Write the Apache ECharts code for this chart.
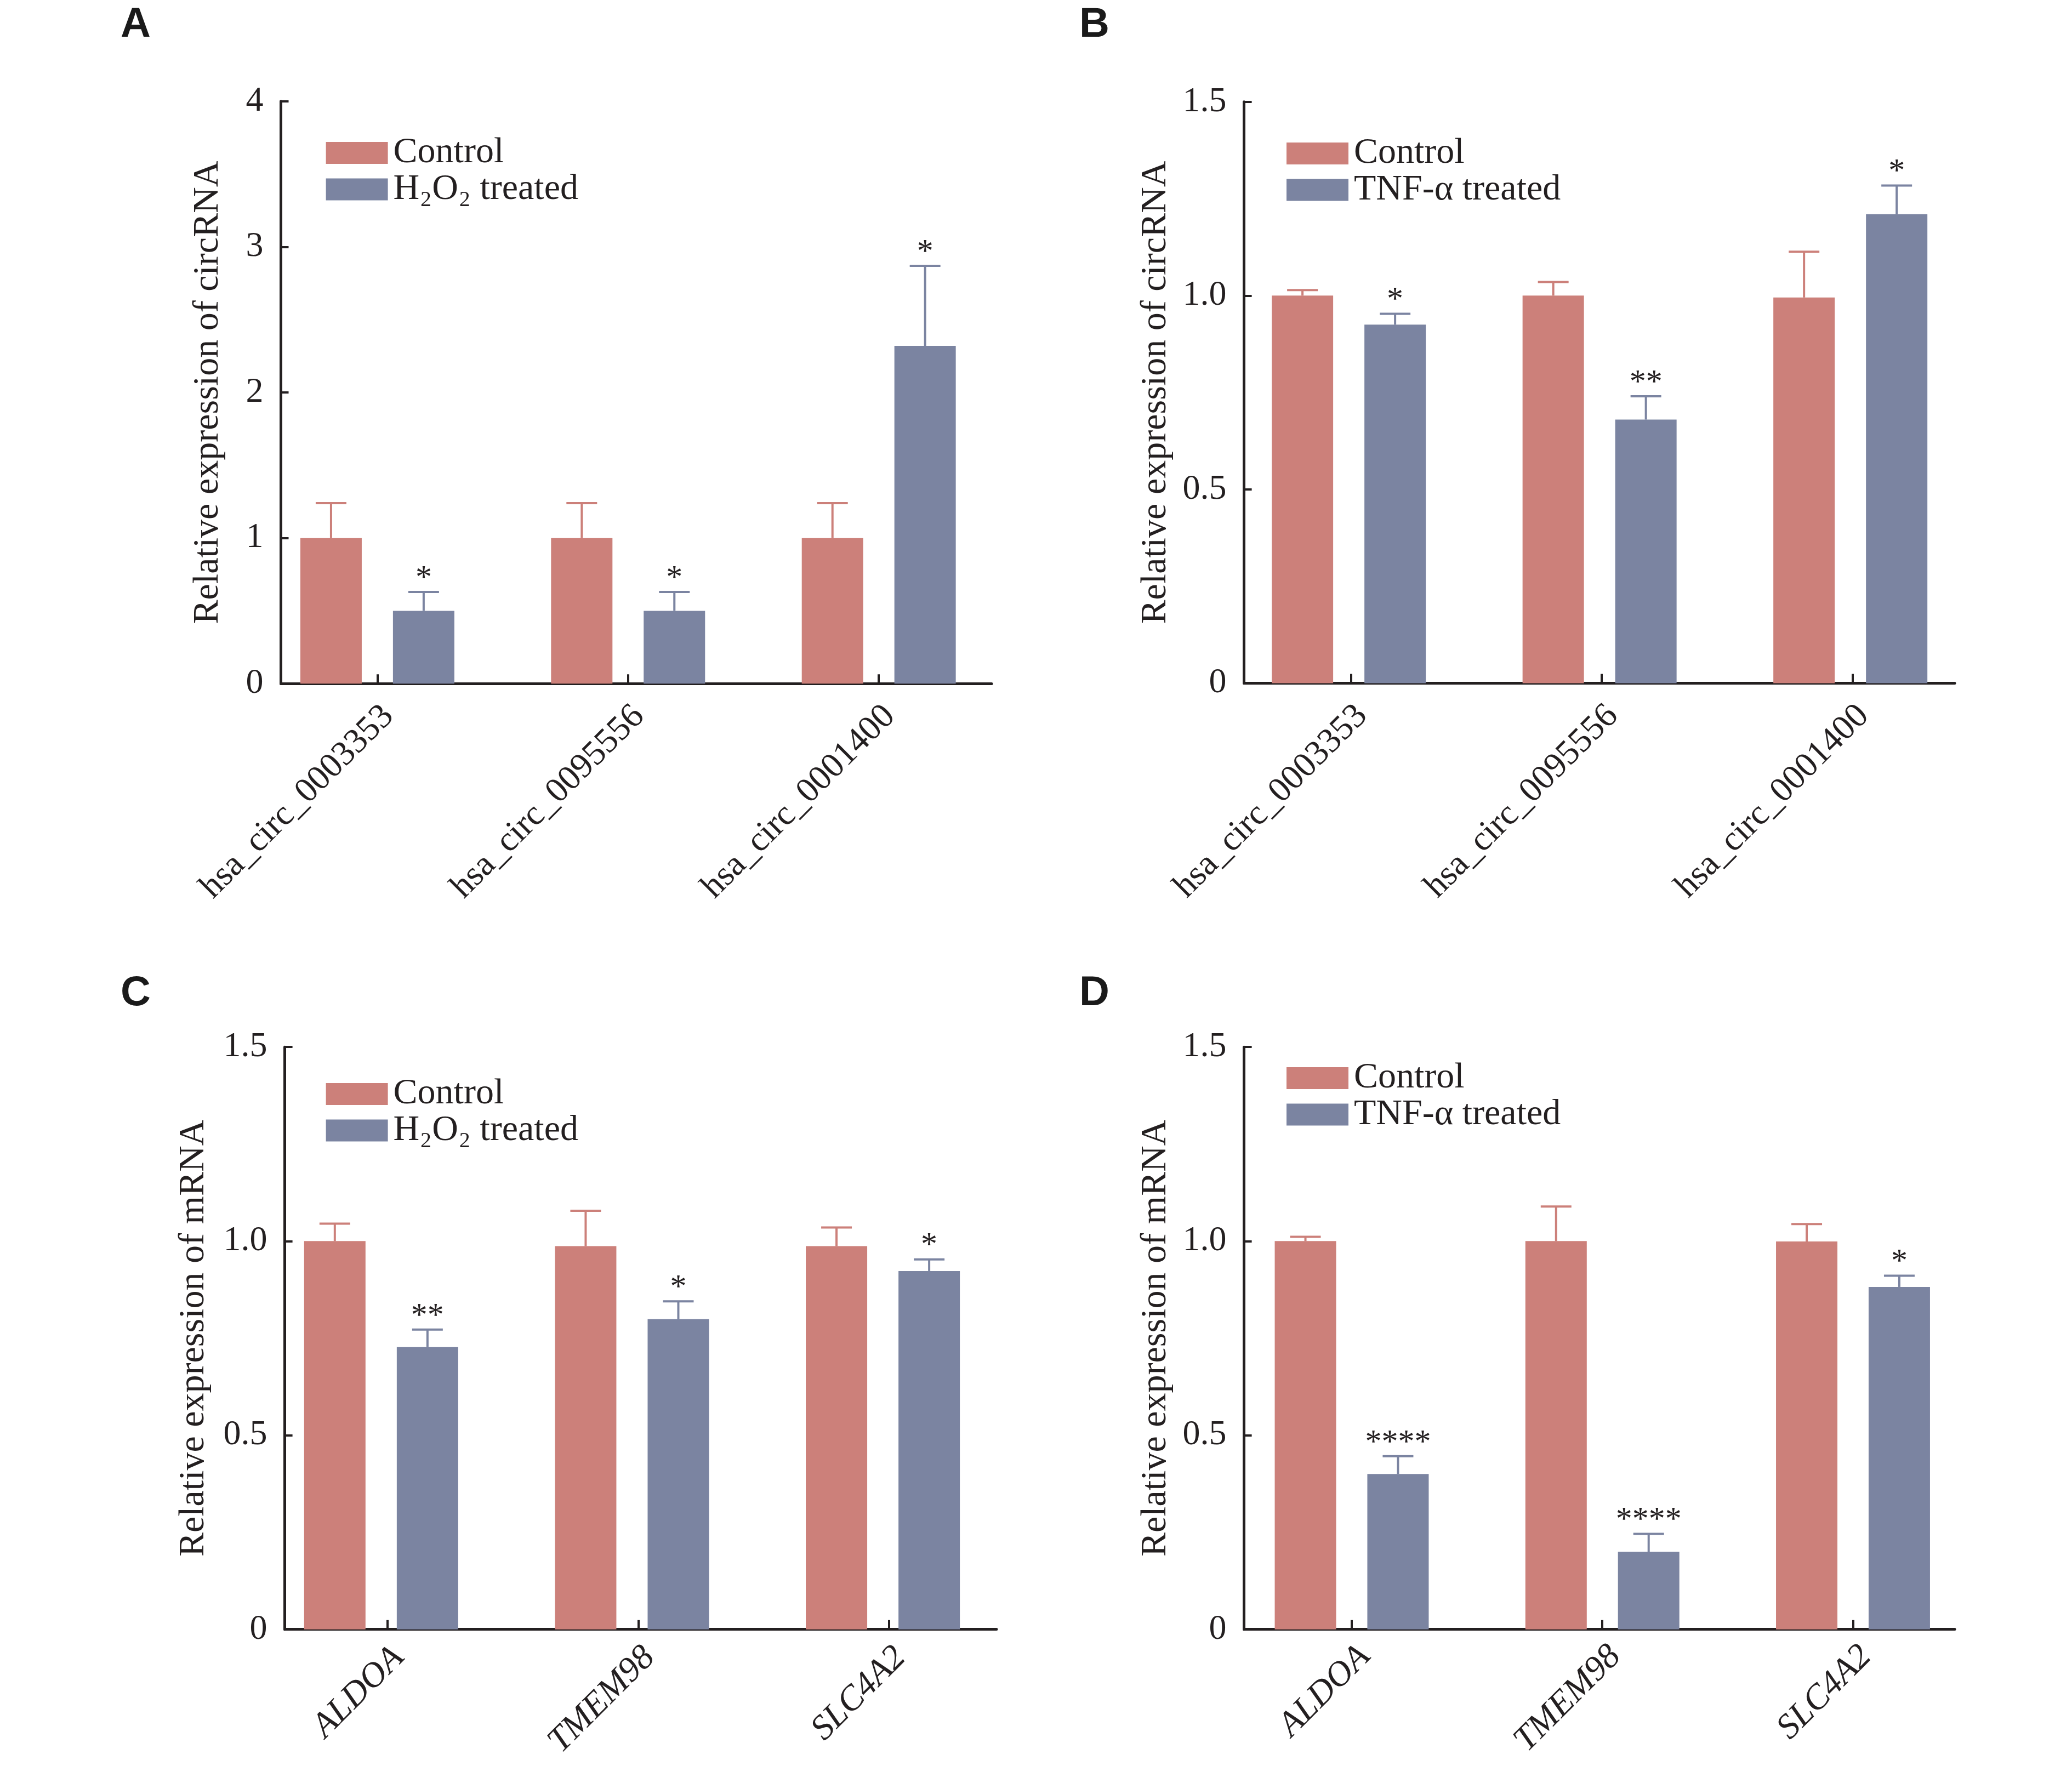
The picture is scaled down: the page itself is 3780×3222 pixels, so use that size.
<!DOCTYPE html>
<html><head><meta charset="utf-8">
<script src="https://cdn.jsdelivr.net/npm/echarts@6/dist/echarts.min.js"></script>
<style>html,body{margin:0;padding:0;background:#fff}#c{width:3780px;height:3222px}</style>
</head><body><div id="c"></div>
<script>
// ---------- data ----------
const circCategories = ['hsa_circ_0003353', 'hsa_circ_0095556', 'hsa_circ_0001400'];
const geneCategories = ['ALDOA', 'TMEM98', 'SLC4A2'];
const namesH2O2 = ['Control', 'H\u2082O\u2082 treated'];
const namesTNF = ['Control', 'TNF-α treated'];
const yLabelsA = ['0', '1', '2', '3', '4'];
const yLabelsHalf = ['0', '0.5', '1.0', '1.5'];

// Panel A: circRNA, H2O2
const aControl = [1.00, 1.00, 1.00];
const aControlErr = [1.24, 1.24, 1.24];
const aTreated = [0.50, 0.50, 2.32];
const aTreatedErr = [0.63, 0.63, 2.87];
const aSig = ['*', '*', '*'];
// Panel B: circRNA, TNF-a
const bControl = [1.00, 1.00, 0.995];
const bControlErr = [1.014, 1.035, 1.113];
const bTreated = [0.925, 0.68, 1.21];
const bTreatedErr = [0.953, 0.74, 1.284];
const bSig = ['*', '**', '*'];
// Panel C: mRNA, H2O2
const cControl = [1.00, 0.987, 0.987];
const cControlErr = [1.045, 1.078, 1.035];
const cTreated = [0.727, 0.799, 0.923];
const cTreatedErr = [0.772, 0.845, 0.953];
const cSig = ['**', '*', '*'];
// Panel D: mRNA, TNF-a
const dControl = [1.00, 1.00, 0.999];
const dControlErr = [1.011, 1.089, 1.044];
const dTreated = [0.40, 0.20, 0.882];
const dTreatedErr = [0.446, 0.246, 0.911];
const dSig = ['****', '****', '*'];

// ---------- style / layout ----------
const INK = '#231f20';
const RED = '#cc807a';
const BLUE = '#7b84a1';
const SERIF = 'Liberation Serif';
const OFF = 0.1847;       // bar centre offset from group centre (axis units)
const BAR_W = 112;
const CAP = 28;
const STAR_DY = 24;
const GROUP_PX = 457.4;   // pixel distance between group centres

const panels = [
  {letter: 'A', letterPos: [220, 8], grid: {left: 512.5, top: 184.8, width: 1296.5, height: 1062.5},
   xMin: -0.3846, xMax: 2.450, tickShift: 0, labelShiftPx: 20, labelMargin: 50, yMax: 4, yInt: 1, yLabels: yLabelsA,
   yName: 'Relative expression of circRNA', nameGap: 100, cats: circCategories, italic: false,
   names: namesH2O2, ctrl: aControl, ctrlErr: aControlErr, trt: aTreated, trtErr: aTreatedErr, sig: aSig,
   legend: [594.6, 246]},
  {letter: 'B', letterPos: [1969, 8], grid: {left: 2269.6, top: 185.7, width: 1296.4, height: 1060.7},
   xMin: -0.4175, xMax: 2.416, tickShift: 0.008, labelShiftPx: 24, labelMargin: 50, yMax: 1.5, yInt: 0.5, yLabels: yLabelsHalf,
   yName: 'Relative expression of circRNA', nameGap: 128, cats: circCategories, italic: false,
   names: namesTNF, ctrl: bControl, ctrlErr: bControlErr, trt: bTreated, trtErr: bTreatedErr, sig: bSig,
   legend: [2347, 247]},
  {letter: 'C', letterPos: [220, 1775], grid: {left: 519.6, top: 1910.2, width: 1298.3, height: 1062.5},
   xMin: -0.384, xMax: 2.453, tickShift: 0.025, labelShiftPx: 32, labelMargin: 42, yMax: 1.5, yInt: 0.5, yLabels: yLabelsHalf,
   yName: 'Relative expression of mRNA', nameGap: 133, cats: geneCategories, italic: true,
   names: namesH2O2, ctrl: cControl, ctrlErr: cControlErr, trt: cTreated, trtErr: cTreatedErr, sig: cSig,
   legend: [594.6, 1963]},
  {letter: 'D', letterPos: [1969, 1775], grid: {left: 2269.6, top: 1910.2, width: 1296.4, height: 1062.5},
   xMin: -0.4295, xMax: 2.4057, tickShift: 0, labelShiftPx: 24, labelMargin: 40, yMax: 1.5, yInt: 0.5, yLabels: yLabelsHalf,
   yName: 'Relative expression of mRNA', nameGap: 128, cats: geneCategories, italic: true,
   names: namesTNF, ctrl: dControl, ctrlErr: dControlErr, trt: dTreated, trtErr: dTreatedErr, sig: dSig,
   legend: [2347, 1934]}
];

function errSeries(i, xs, means, errs, color) {
  return {
    type: 'custom', xAxisIndex: i, yAxisIndex: i, silent: true, clip: false, z: 3,
    data: means.map((v, k) => [xs[k], v, errs[k]]),
    renderItem: (params, api) => {
      const a = api.coord([api.value(0), api.value(1)]);
      const b = api.coord([api.value(0), api.value(2)]);
      return {type: 'group', children: [
        {type: 'line', shape: {x1: a[0], y1: a[1], x2: b[0], y2: b[1]}, style: {stroke: color, lineWidth: 4}},
        {type: 'line', shape: {x1: b[0] - CAP, y1: b[1], x2: b[0] + CAP, y2: b[1]}, style: {stroke: color, lineWidth: 4}}
      ]};
    }
  };
}

function starSeries(i, xs, errs, sig) {
  return {
    type: 'custom', xAxisIndex: i, yAxisIndex: i, silent: true, clip: false, z: 4,
    data: errs.map((v, k) => [xs[k], v]),
    renderItem: (params, api) => {
      const b = api.coord([api.value(0), api.value(1)]);
      return {type: 'text', x: b[0], y: b[1] - STAR_DY,
        style: {text: sig[params.dataIndex], fontSize: 60, fontFamily: SERIF, fill: INK, align: 'center', verticalAlign: 'middle'}};
    }
  };
}

const option = {backgroundColor: '#fff', animation: false, grid: [], xAxis: [], yAxis: [], series: [], legend: [], title: []};

panels.forEach((p, i) => {
  option.grid.push(Object.assign({containLabel: false}, p.grid));
  const tickVals = p.cats.map((c, k) => k + p.tickShift);
  const labelVals = p.cats.map((c, k) => k + p.labelShiftPx / GROUP_PX);
  option.xAxis.push({
    gridIndex: i, type: 'value', min: p.xMin, max: p.xMax,
    splitLine: {show: false},
    axisLine: {show: true, onZero: false, lineStyle: {color: INK, width: 5}},
    axisTick: {show: true, inside: true, length: 17, lineStyle: {color: INK, width: 4}, customValues: tickVals},
    axisLabel: {show: true, customValues: labelVals, rotate: 45, margin: p.labelMargin, fontSize: 64, fontFamily: SERIF,
      fontStyle: p.italic ? 'italic' : 'normal', color: INK, hideOverlap: false,
      formatter: v => p.cats[Math.round(v)]}
  });
  option.yAxis.push({
    gridIndex: i, type: 'value', min: 0, max: p.yMax, interval: p.yInt,
    splitLine: {show: false},
    axisLine: {show: true, onZero: false, lineStyle: {color: INK, width: 5}},
    axisTick: {show: true, inside: true, length: 14, lineStyle: {color: INK, width: 4}},
    axisLabel: {margin: 32, fontSize: 64, fontFamily: SERIF, color: INK,
      formatter: v => p.yLabels[Math.round(v / p.yInt)]},
    name: p.yName, nameLocation: 'middle', nameRotate: 90, nameGap: p.nameGap,
    nameTextStyle: {fontSize: 66, fontFamily: SERIF, color: INK}
  });
  const xsC = p.cats.map((c, k) => k - OFF);
  const xsT = p.cats.map((c, k) => k + OFF);
  option.series.push({
    type: 'bar', name: p.names[0], xAxisIndex: i, yAxisIndex: i, barWidth: BAR_W, barGap: '-100%', z: 2,
    itemStyle: {color: RED}, emphasis: {disabled: true},
    data: p.ctrl.map((v, k) => [xsC[k], v])
  });
  option.series.push({
    type: 'bar', name: p.names[1], xAxisIndex: i, yAxisIndex: i, barWidth: BAR_W, barGap: '-100%', z: 2,
    itemStyle: {color: BLUE}, emphasis: {disabled: true},
    data: p.trt.map((v, k) => [xsT[k], v])
  });
  option.series.push(errSeries(i, xsC, p.ctrl, p.ctrlErr, RED));
  option.series.push(errSeries(i, xsT, p.trt, p.trtErr, BLUE));
  option.series.push(starSeries(i, xsT, p.trtErr, p.sig));
  option.legend.push({
    left: p.legend[0], top: p.legend[1], orient: 'vertical', padding: 0, itemGap: 0.5,
    itemWidth: 113, itemHeight: 40, icon: 'rect', selectedMode: false, data: p.names,
    textStyle: {fontSize: 66, fontFamily: SERIF, color: INK, padding: [0, 0, 0, 5]}
  });
  option.title.push({
    text: p.letter, left: p.letterPos[0], top: p.letterPos[1], padding: 0,
    textStyle: {fontSize: 76, fontWeight: 'bold', fontFamily: 'Liberation Sans', color: '#1a1a1a'}
  });
});

const chart = echarts.init(document.getElementById('c'), null, {renderer: 'canvas'});
chart.setOption(option);
</script>
</body></html>
